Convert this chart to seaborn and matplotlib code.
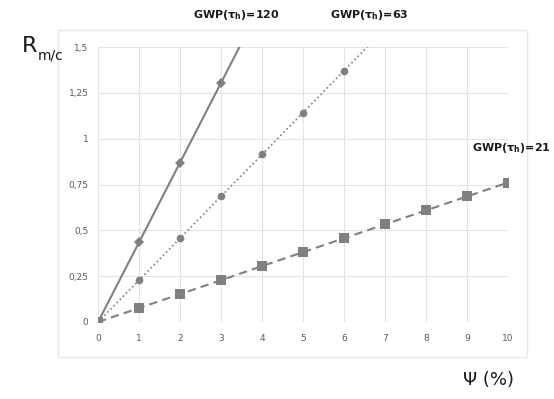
import matplotlib
matplotlib.use("Agg")
import matplotlib.pyplot as plt
import matplotlib.patches as mpatches
import seaborn as sns

# values (last point of the first two lines only continues the line past the top)
x_120 = [0, 1, 2, 3, 4]
r_120 = [0, 0.435, 0.87, 1.305, 1.74]
x_63 = [0, 1, 2, 3, 4, 5, 6, 7]
r_63 = [0, 0.228, 0.457, 0.686, 0.914, 1.142, 1.371, 1.6]
x_21 = [0, 1, 2, 3, 4, 5, 6, 7, 8, 9, 10]
r_21 = [0, 0.076, 0.152, 0.228, 0.305, 0.381, 0.457, 0.533, 0.609, 0.685, 0.761]

x_ticks = [0, 1, 2, 3, 4, 5, 6, 7, 8, 9, 10]
y_ticks = [0, 0.25, 0.5, 0.75, 1, 1.25, 1.5]
y_tick_labels = ["0", "0,25", "0,5", "0,75", "1", "1,25", "1,5"]

sns.set_style("white")
plt.rcParams['font.family'] = ['DejaVu Sans']

fig = plt.figure(figsize=(5.54, 3.99), dpi=100)
ax = fig.add_axes([0.177, 0.193, 0.740, 0.689])

# light frame around the chart area
fig.patches.append(mpatches.Rectangle((0.105, 0.105), 0.847, 0.820, transform=fig.transFigure,
                                      fill=False, edgecolor='#e6e6e6', linewidth=1))

grey = '#808080'
sns.lineplot(x=x_120, y=r_120, ax=ax, color=grey, linestyle='-', linewidth=1.5,
             marker='D', markersize=5, markevery=[0, 1, 2, 3], markeredgewidth=0)
sns.lineplot(x=x_63, y=r_63, ax=ax, color=grey, linestyle=':', linewidth=1.2,
             marker='o', markersize=5.5, markevery=[0, 1, 2, 3, 4, 5, 6], markeredgewidth=0)
sns.lineplot(x=x_21, y=r_21, ax=ax, color=grey, linestyle=(0, (4, 2.5)), linewidth=1.5,
             marker='s', markersize=6.5, markeredgewidth=0)

ax.set_xlim(0, 10)
ax.set_ylim(0, 1.5)
ax.set_xticks(x_ticks)
ax.set_yticks(y_ticks)
ax.set_yticklabels(y_tick_labels)
ax.grid(True, color='#e3e3e3', linewidth=0.8)
ax.set_axisbelow(True)
for s in ax.spines.values():
    s.set_visible(False)
ax.tick_params(axis='both', length=0, labelsize=6.5, colors='#595959')
ax.tick_params(axis='x', pad=9)
ax.tick_params(axis='y', pad=7)

fig.text(0.04, 0.86, "R", fontsize=16, color='#1a1a1a', va='bottom')
fig.text(0.068, 0.843, "m/c", fontsize=10, color='#1a1a1a', va='bottom')
fig.text(0.835, 0.025, "Ψ (%)", fontsize=13, color='#1a1a1a', va='bottom')

lab = dict(fontsize=8, fontweight='bold', color='#1a1a1a', va='center')
fig.text(0.348, 0.962, r"GWP(τ$_\mathregular{h}$)=120", **lab)
fig.text(0.596, 0.962, r"GWP(τ$_\mathregular{h}$)=63", **lab)
fig.text(0.852, 0.63, r"GWP(τ$_\mathregular{h}$)=21", **lab)

fig.savefig("out.png", dpi=100)
